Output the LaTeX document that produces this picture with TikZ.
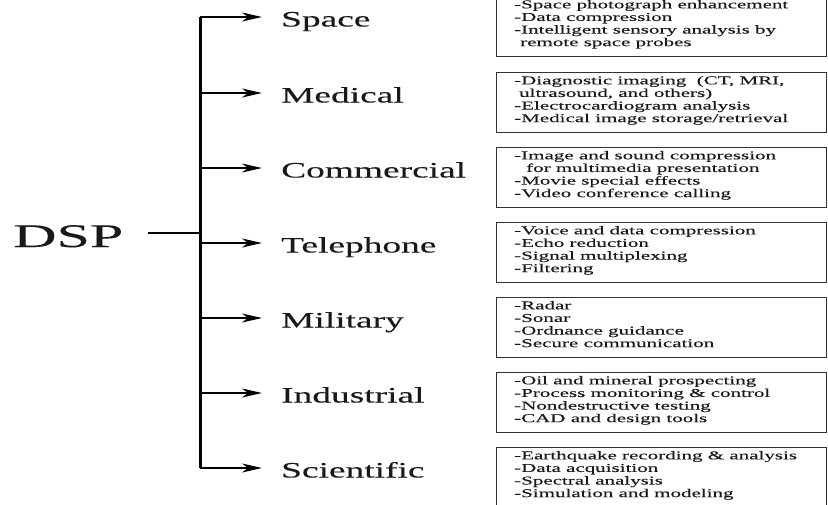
\documentclass[tikz,border=0pt]{standalone}
\usepackage{fontspec}
\setmainfont{Liberation Serif}
\newfontfamily\dspfont{Liberation Serif}[FakeStretch=1.82,FakeBold=0.1]
\newfontfamily\labfont{Liberation Serif}[FakeStretch=1.7,FakeBold=0.12]
\newfontfamily\boxfont{Liberation Serif}[FakeStretch=1.75,FakeBold=0.15]
\usetikzlibrary{arrows.meta}
\begin{document}
\begin{tikzpicture}[x=1pt,y=-1pt,
  lab/.style={anchor=base west, inner sep=0pt, text=black!90, font=\labfont\fontsize{22}{24}\selectfont},
  itembox/.style={draw=black!80, line width=1.4pt, minimum width=330pt, minimum height=60pt, anchor=north west, inner sep=0pt},
  itemtext/.style={anchor=north west, inner sep=0pt, align=left, text=black!90, font=\boxfont\fontsize{12}{12.6}\selectfont},
  arr/.style={line width=2pt, -{Stealth[length=20pt,width=9pt,inset=6pt]}},
]
\useasboundingbox[fill=white] (0,0) rectangle (828,504);
% root
\node[inner sep=0pt, anchor=base west, text=black!90, font=\dspfont\fontsize{33}{36}\selectfont] (dsp) at (13,247) {DSP};
\coordinate (hub) at (200,233);
\draw[line width=1.5pt, shorten <=24pt] (dsp.east |- hub) -- (hub);
% branches
\foreach \i/\name/\y in {1/Space/17, 2/Medical/93, 3/Commercial/168, 4/Telephone/243, 5/Military/318, 6/Industrial/393, 7/Scientific/468} {
  \coordinate (b\i) at (200,\y);
  \coordinate (t\i) at (262,\y);
  \node[lab] (l\i) at (281,\y+9.5) {\name};
  \draw[arr] (b\i) -- (t\i);
  \node[itembox] (box\i) at (496,\y-21) {};
}
\draw[line width=3pt] (b1) -- (b7);
% box texts
\node[itemtext] (x1) at ([shift={(18,3.8)}]box1.north west) {-Space photograph enhancement\\-Data compression\\-Intelligent sensory analysis by\\\hspace*{6pt}remote space probes};
\node[itemtext] (x2) at ([shift={(18,3.8)}]box2.north west) {-Diagnostic imaging~ (CT, MRI,\\\hspace*{5pt}ultrasound, and others)\\-Electrocardiogram analysis\\-Medical image storage/retrieval};
\node[itemtext] (x3) at ([shift={(18,3.8)}]box3.north west) {-Image and sound compression\\\hspace*{12pt}for multimedia presentation\\-Movie special effects\\-Video conference calling};
\node[itemtext] (x4) at ([shift={(18,3.8)}]box4.north west) {-Voice and data compression\\-Echo reduction\\-Signal multiplexing\\-Filtering};
\node[itemtext] (x5) at ([shift={(18,3.8)}]box5.north west) {-Radar\\-Sonar\\-Ordnance guidance\\-Secure communication};
\node[itemtext] (x6) at ([shift={(18,3.8)}]box6.north west) {-Oil and mineral prospecting\\-Process monitoring \& control\\-Nondestructive testing\\-CAD and design tools};
\node[itemtext] (x7) at ([shift={(18,3.8)}]box7.north west) {-Earthquake recording \& analysis\\-Data acquisition\\-Spectral analysis\\-Simulation and modeling};
\end{tikzpicture}
\end{document}
